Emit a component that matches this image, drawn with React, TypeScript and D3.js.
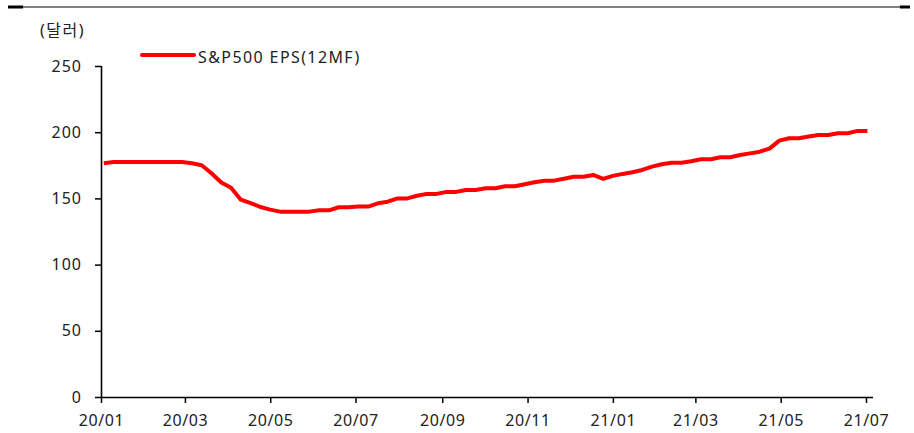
import React, { useEffect, useRef } from 'react';
import * as d3 from 'd3';

// Weekly S&P500 EPS (12MF), Fridays starting 2020-01-03
const startDate = '2020-01-03';
const epsValues = [
  176.6, 177.5, 177.5, 177.5, 177.5, 177.5, 177.5, 177.5, 177.5, 176.5,
  175.0, 169.0, 162.0, 158.0, 149.0, 146.5, 143.5, 141.5, 140.0, 140.0,
  140.0, 140.0, 141.0, 141.0, 143.3, 143.3, 143.8, 143.8, 146.3, 147.5,
  150.0, 150.0, 152.0, 153.4, 153.4, 154.9, 154.9, 156.4, 156.4, 157.7,
  157.7, 159.2, 159.2, 160.7, 162.2, 163.4, 163.4, 164.9, 166.4, 166.4,
  167.7, 164.8, 167.0, 168.5, 169.8, 171.5, 174.0, 175.8, 177.0, 177.0,
  178.0, 179.6, 179.6, 181.1, 181.1, 182.8, 184.0, 185.3, 187.6, 193.6,
  195.4, 195.4, 196.7, 197.9, 197.9, 199.2, 199.2, 201.0, 201.0,
];
const xTickLabels = ['20/01', '20/03', '20/05', '20/07', '20/09', '20/11', '21/01', '21/03', '21/05', '21/07'];
const yTicks = [0, 50, 100, 150, 200, 250];
const seriesName = 'S&P500 EPS(12MF)';
const unitLabel = '(달러)';

const FONT = '"Noto Sans", "Noto Sans CJK KR", sans-serif';

const App = () => {
  const svgRef = useRef<SVGSVGElement>(null);

  useEffect(() => {
    const svg = d3.select(svgRef.current);
    svg.selectAll('*').remove();

    const parse = d3.timeParse('%Y-%m-%d');
    const fmtIn = d3.timeParse('%y/%m');
    const start = parse(startDate) as Date;
    const data = epsValues.map((v, i) => ({ date: d3.timeDay.offset(start, i * 7), value: v }));

    const left = 101;
    const bottom = 397;
    const top = 66;

    const x = d3.scaleTime()
      .domain([fmtIn('20/01') as Date, fmtIn('21/07') as Date])
      .range([left, 866]);
    const y = d3.scaleLinear().domain([0, 250]).range([bottom, top]);

    // Top rule
    svg.append('line').attr('x1', 8).attr('x2', 910).attr('y1', 7).attr('y2', 7)
      .attr('stroke', '#000').attr('stroke-width', 1.2);
    svg.append('rect').attr('x', 8).attr('y', 5.5).attr('width', 15).attr('height', 3).attr('fill', '#000');
    svg.append('rect').attr('x', 900).attr('y', 5.5).attr('width', 10).attr('height', 3).attr('fill', '#000');

    // Y axis
    const yAxis = svg.append('g')
      .attr('transform', `translate(${left},0)`)
      .call(d3.axisLeft(y).tickValues(yTicks).tickSize(6).tickPadding(13));
    yAxis.select('.domain').attr('stroke', '#000').attr('stroke-width', 1.6)
      .attr('d', `M0.5,${top}V${bottom}`);
    yAxis.selectAll('.tick line').attr('stroke', '#000').attr('stroke-width', 1.5);
    yAxis.selectAll('.tick text')
      .attr('fill', '#222').style('font-family', FONT).style('font-size', '16px')
      .style('letter-spacing', '1px');

    // X axis
    const tickDates = xTickLabels.map(t => fmtIn(t) as Date);
    const xAxis = svg.append('g')
      .attr('transform', `translate(0,${bottom})`)
      .call(d3.axisBottom(x).tickValues(tickDates).tickFormat(d3.timeFormat('%y/%m') as any)
        .tickSize(6).tickPadding(12));
    xAxis.select('.domain').attr('stroke', '#000').attr('stroke-width', 1.6)
      .attr('d', `M${left},0.5H873`);
    xAxis.selectAll('.tick line').attr('stroke', '#000').attr('stroke-width', 1.5);
    xAxis.selectAll('.tick text')
      .attr('fill', '#222').style('font-family', FONT).style('font-size', '16px')
      .style('letter-spacing', '0.6px');

    // Line
    const line = d3.line<{ date: Date; value: number }>()
      .x(d => x(d.date))
      .y(d => y(d.value));
    svg.append('path')
      .datum(data)
      .attr('fill', 'none')
      .attr('stroke', '#ff0000')
      .attr('stroke-width', 4)
      .attr('stroke-linejoin', 'round')
      .attr('d', line);

    // Unit label
    svg.append('text').attr('x', 40).attr('y', 36).text(unitLabel)
      .attr('fill', '#222').style('font-family', FONT).style('font-size', '16px')
      .style('letter-spacing', '1.5px');

    // Legend
    svg.append('line').attr('x1', 142).attr('x2', 194).attr('y1', 55).attr('y2', 55)
      .attr('stroke', '#ff0000').attr('stroke-width', 4).attr('stroke-linecap', 'round');
    svg.append('text').attr('x', 198).attr('y', 63).text(seriesName)
      .attr('fill', '#222').style('font-family', FONT).style('font-size', '16px')
      .style('letter-spacing', '1.4px');
  }, []);

  return (
    <svg ref={svgRef} width={914} height={433}
      style={{ position: 'absolute', left: 0, top: 0, background: '#fff' }} />
  );
};

export default App;
